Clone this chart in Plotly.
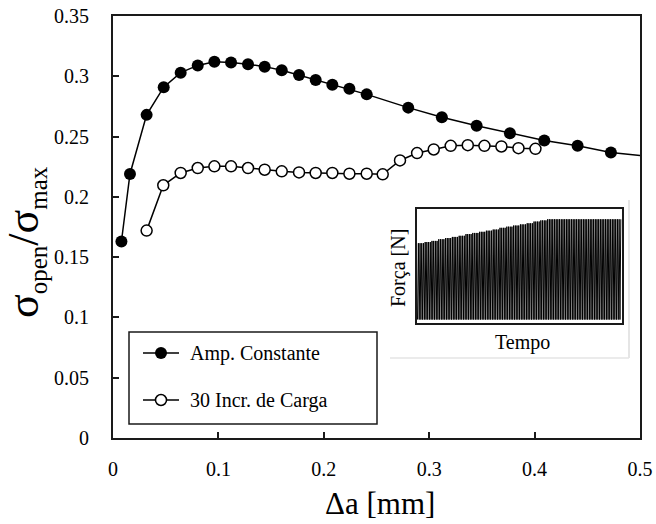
import plotly.graph_objects as go

W, H = 656, 524
SERIF = "Liberation Serif"

# crack growth Δa [mm] and normalized opening stress, constant amplitude
da_const = [0.008, 0.0161, 0.0319, 0.0481, 0.0642, 0.0804, 0.0962, 0.1120, 0.1281,
            0.1439, 0.1601, 0.1765, 0.1923, 0.2081, 0.2243, 0.2407, 0.2801, 0.3120,
            0.3450, 0.3766, 0.4092, 0.4408, 0.4724, 0.535]
ratio_const = [0.163, 0.219, 0.268, 0.291, 0.303, 0.309, 0.312, 0.3115, 0.310,
               0.308, 0.305, 0.301, 0.297, 0.293, 0.2896, 0.285, 0.274, 0.266,
               0.259, 0.2527, 0.2467, 0.2423, 0.2368, 0.231]

# 30 load increments
da_incr = [0.0319, 0.0477, 0.0642, 0.0804, 0.0962, 0.1120, 0.1281, 0.1439, 0.1601,
           0.1765, 0.1923, 0.2081, 0.2243, 0.2407, 0.2559, 0.2723, 0.2885, 0.3043,
           0.3204, 0.3366, 0.3524, 0.3685, 0.3847, 0.4008]
ratio_incr = [0.172, 0.2096, 0.2198, 0.2239, 0.2253, 0.2253, 0.2239, 0.2225, 0.2212,
              0.2203, 0.2198, 0.2198, 0.2192, 0.2192, 0.2187, 0.2302, 0.2363, 0.2393,
              0.2423, 0.2429, 0.2423, 0.2418, 0.2404, 0.2398]

series_names = ["Amp. Constante", "30 Incr. de Carga"]
x_ticks = [0, 0.1, 0.2, 0.3, 0.4, 0.5]
x_tick_text = ["0", "0.1", "0.2", "0.3", "0.4", "0.5"]
y_ticks = [0, 0.05, 0.1, 0.15, 0.2, 0.25, 0.3, 0.35]
y_tick_text = ["0", "0.05", "0.1", "0.15", "0.2", "0.25", "0.3", "0.35"]

# inset: peak force of each load increment (normalized) and the valley level
inc_peaks = [0.70, 0.71, 0.72, 0.735, 0.745, 0.755, 0.765, 0.78, 0.79, 0.80,
             0.81, 0.82, 0.835, 0.845, 0.855, 0.865, 0.875, 0.89, 0.90, 0.91,
             0.91, 0.91, 0.91, 0.91, 0.91, 0.91, 0.91, 0.91, 0.91, 0.91]
valley = 0.03
cycles_per_inc = 4

# pixel helpers for domains
def xd(px0, px1):
    return [px0 / W, px1 / W]

def yd(py_bottom, py_top):
    return [1 - py_bottom / H, 1 - py_top / H]

fig = go.Figure()

# main curves
fig.add_trace(go.Scatter(
    x=da_const, y=ratio_const, mode="lines+markers", name=series_names[0],
    line=dict(color="black", width=1.5),
    marker=dict(symbol="circle", size=12, color="black", line=dict(width=0)),
    showlegend=False, xaxis="x", yaxis="y"))
fig.add_trace(go.Scatter(
    x=da_incr, y=ratio_incr, mode="lines+markers", name=series_names[1],
    line=dict(color="black", width=1.5),
    marker=dict(symbol="circle", size=11, color="white", line=dict(color="black", width=1.5)),
    showlegend=False, xaxis="x", yaxis="y"))

# inset force history: alternate valley / peak for every cycle
t_vals, f_vals = [], []
for i, pk in enumerate(inc_peaks):
    for j in range(cycles_per_inc):
        t = i * cycles_per_inc + j
        t_vals += [t, t + 0.5]
        f_vals += [valley, pk]
fig.add_trace(go.Scatter(
    x=t_vals, y=f_vals, mode="lines", line=dict(color="black", width=1),
    showlegend=False, hoverinfo="skip", xaxis="x3", yaxis="y3"))

# legend samples drawn in a pixel overlay
legend_rows = [353, 400]
for row in legend_rows:
    fig.add_trace(go.Scatter(
        x=[143, 179], y=[row, row], mode="lines",
        line=dict(color="black", width=1.5),
        showlegend=False, hoverinfo="skip", xaxis="x2", yaxis="y2"))
fig.add_trace(go.Scatter(
    x=[161], y=[legend_rows[0]], mode="markers",
    marker=dict(size=12, color="black", line=dict(width=0)),
    showlegend=False, hoverinfo="skip", xaxis="x2", yaxis="y2"))
fig.add_trace(go.Scatter(
    x=[161], y=[legend_rows[1]], mode="markers",
    marker=dict(size=11, color="white", line=dict(color="black", width=1.5)),
    showlegend=False, hoverinfo="skip", xaxis="x2", yaxis="y2"))

axis_line = dict(showline=True, linecolor="#1a1a1a", linewidth=2, mirror=True,
                 showgrid=False, zeroline=False, automargin=False)

fig.update_layout(
    template="none",
    width=W, height=H,
    margin=dict(l=0, r=0, t=0, b=0, pad=0),
    paper_bgcolor="white", plot_bgcolor="rgba(0,0,0,0)",
    font=dict(family=SERIF, color="black", size=20),
    xaxis=dict(domain=xd(113, 640), range=[0, 0.5], tickvals=x_ticks,
               ticktext=x_tick_text,
               ticks="inside", ticklen=6, tickwidth=1.5, tickcolor="#1a1a1a",
               ticklabelstandoff=12, tickfont=dict(size=20, family=SERIF, color="black"),
               anchor="y", **axis_line),
    yaxis=dict(domain=yd(438, 16), range=[0, 0.35], tickvals=y_ticks,
               ticktext=y_tick_text,
               ticks="inside", ticklen=6, tickwidth=1.5, tickcolor="#1a1a1a",
               ticklabelstandoff=18, tickfont=dict(size=20, family=SERIF, color="black"),
               anchor="x", **axis_line),
    xaxis2=dict(domain=[0, 1], range=[0, W], visible=False, anchor="y2",
                fixedrange=True, automargin=False),
    yaxis2=dict(domain=[0, 1], range=[H, 0], visible=False, anchor="x2",
                fixedrange=True, automargin=False),
    xaxis3=dict(domain=xd(417, 622), range=[-0.3, len(inc_peaks) * cycles_per_inc + 0.2],
                showticklabels=False, ticks="", anchor="y3", **axis_line),
    yaxis3=dict(domain=yd(323, 209), range=[0, 1], showticklabels=False, ticks="",
                anchor="x3", **axis_line),
)

# legend frame and faint frame around the inset
fig.add_shape(type="rect", xref="x2", yref="y2", x0=129, x1=377, y0=332, y1=424,
              line=dict(color="#1a1a1a", width=1.5), fillcolor="rgba(0,0,0,0)")
fig.add_shape(type="line", xref="x2", yref="y2", x0=629, x1=629, y0=200, y1=358,
              line=dict(color="#dcdcdc", width=1.5))
fig.add_shape(type="line", xref="x2", yref="y2", x0=390, x1=629, y0=358, y1=358,
              line=dict(color="#e4e4e4", width=1.5))

# legend labels
for name, row in zip(series_names, legend_rows):
    fig.add_annotation(xref="x2", yref="y2", x=188, y=row, text=name, showarrow=False,
                       xanchor="left", yanchor="middle",
                       font=dict(family=SERIF, size=20, color="black"))

# axis titles
fig.add_annotation(xref="x2", yref="y2", x=380, y=503, text="Δa [mm]", showarrow=False,
                   xanchor="center", yanchor="middle",
                   font=dict(family=SERIF, size=31, color="black"))
fig.add_annotation(xref="x2", yref="y2", x=25, y=242,
                   text="σ<sub><span style='font-size:25px'>open</span></sub>/σ"
                        "<sub><span style='font-size:25px'>max</span></sub>",
                   showarrow=False, textangle=-90, xanchor="center", yanchor="middle",
                   font=dict(family=SERIF, size=44, color="black"))

# inset titles
fig.add_annotation(xref="x2", yref="y2", x=398, y=268, text="Força [N]", showarrow=False,
                   textangle=-90, xanchor="center", yanchor="middle",
                   font=dict(family=SERIF, size=20, color="black"))
fig.add_annotation(xref="x2", yref="y2", x=522, y=342, text="Tempo", showarrow=False,
                   xanchor="center", yanchor="middle",
                   font=dict(family=SERIF, size=20, color="black"))

fig.write_html("out.html")
